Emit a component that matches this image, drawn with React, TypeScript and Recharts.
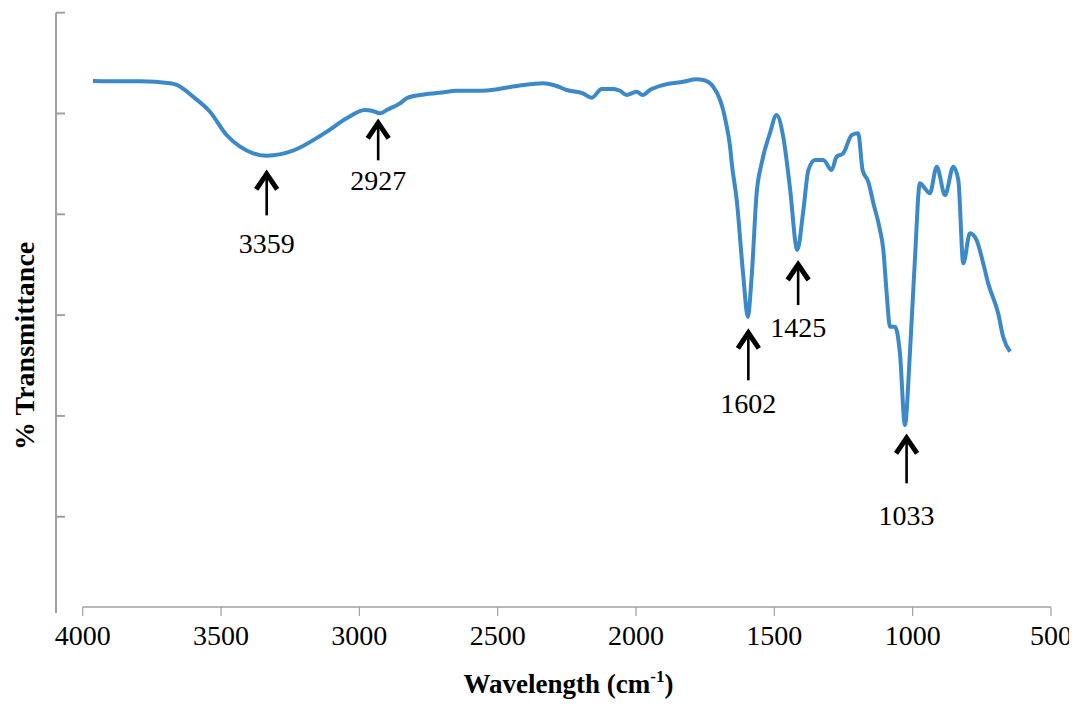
import React from 'react';
import { LineChart, Line, XAxis, YAxis, ReferenceLine, ReferenceDot } from 'recharts';

// ---- data ----
const wavenumbers = [3963, 3901, 3793, 3684, 3660, 3601, 3540, 3480, 3431, 3384, 3335, 3240, 3142, 3118, 3046, 2980, 2955, 2925, 2901, 2853, 2829, 2781, 2709, 2648, 2553, 2431, 2336, 2287, 2251, 2192, 2160, 2124, 2082, 2058, 2034, 1998, 1976, 1950, 1901, 1829, 1781, 1757, 1721, 1696, 1685, 1672, 1660, 1654, 1636, 1612, 1596, 1582, 1564, 1546, 1516, 1492, 1468, 1444, 1417, 1395, 1377, 1353, 1323, 1293, 1275, 1251, 1220, 1197, 1181, 1160, 1142, 1118, 1106, 1094, 1082, 1064, 1046, 1028, 1010, 992, 974, 956, 938, 913, 883, 853, 835, 817, 793, 769, 745, 727, 691, 673, 648];
const transmittance = [93.22, 93.2, 93.2, 93.0, 92.83, 91.67, 90.18, 87.87, 86.71, 86.05, 85.81, 86.31, 87.77, 88.19, 89.52, 90.35, 90.28, 90.02, 90.35, 91.01, 91.51, 91.84, 92.06, 92.26, 92.26, 92.73, 93.0, 92.73, 92.33, 92.0, 91.57, 92.43, 92.43, 92.26, 91.84, 92.16, 91.84, 92.33, 92.83, 93.15, 93.39, 93.32, 92.66, 91.34, 90.35, 88.69, 86.71, 85.09, 81.42, 73.81, 69.84, 73.81, 82.08, 85.06, 88.04, 89.85, 87.7, 82.74, 76.46, 80.43, 84.39, 85.39, 85.39, 84.39, 85.71, 86.05, 87.87, 88.04, 84.39, 83.2, 81.1, 78.44, 76.46, 72.16, 68.85, 68.85, 66.21, 59.1, 66.21, 75.47, 83.07, 82.58, 82.08, 84.72, 81.91, 84.72, 83.4, 75.14, 78.12, 77.45, 75.14, 73.15, 70.18, 67.86, 66.37];

const xTicks = [4000, 3500, 3000, 2500, 2000, 1500, 1000, 500];
const yTicks = [50, 60, 70, 80, 90, 100];

const peakLabels = ['3359', '2927', '1602', '1425', '1033'];
const peakX = [3335, 2932, 1594, 1414, 1022];
const peakTip = [84.46, 89.52, 68.69, 75.47, 58.27];

// ---- styles ----
const ARROW_LEN = [46, 42, 52, 45, 50];
const LABEL_DY = [84, 72, 85, 77, 92];
const FONT = '"Liberation Serif", "Times New Roman", serif';
const LINE_COLOR = '#3B89C9';
const AXIS_COLOR = '#A0A0A0';

const data = wavenumbers.map((wn, i) => ({ wn, t: transmittance[i] }));

const XTick = (props: any) => {
  const { x, y, payload } = props;
  return (
    <g>
      <line x1={x} x2={x} y1={y - 6} y2={y + 3} stroke={AXIS_COLOR} strokeWidth={1.2} />
      <text x={x} y={y + 32} textAnchor="middle" fontFamily={FONT} fontSize={28} fill="#000">
        {payload.value}
      </text>
    </g>
  );
};

const YTick = (props: any) => {
  const { x, y } = props;
  return <line x1={x} x2={x + 9} y1={y} y2={y} stroke={AXIS_COLOR} strokeWidth={2} />;
};

const makeArrow = (i: number) => (p: any) => {
  const { cx, cy } = p;
  const len = ARROW_LEN[i];
  return (
    <g>
      <line x1={cx} x2={cx} y1={cy + 6} y2={cy + len} stroke="#000" strokeWidth={2.6} />
      <polyline
        points={`${cx - 10.5},${cy + 20} ${cx},${cy + 4.5} ${cx + 10.5},${cy + 20}`}
        fill="none"
        stroke="#000"
        strokeWidth={5}
        strokeLinejoin="miter"
      />
      <text x={cx} y={cy + LABEL_DY[i]} textAnchor="middle" fontFamily={FONT} fontSize={28} fill="#000">
        {peakLabels[i]}
      </text>
    </g>
  );
};

const XTitle = (props: any) => {
  const vb = props.viewBox;
  return (
    <text
      x={vb.x + vb.width / 2 + 15}
      y={vb.y + 80}
      textAnchor="middle"
      fontFamily={FONT}
      fontWeight="bold"
      fontSize={27}
      fill="#000"
    >
      Wavelength (cm
      <tspan dy={-11} fontSize={17}>-1</tspan>
      <tspan dy={11}>)</tspan>
    </text>
  );
};

const YTitle = (props: any) => {
  const vb = props.viewBox;
  const x = vb.x + 26;
  const y = vb.y + vb.height / 2 + 33;
  return (
    <text
      x={x}
      y={y}
      transform={`rotate(-90 ${x} ${y})`}
      textAnchor="middle"
      fontFamily={FONT}
      fontWeight="bold"
      fontSize={28}
      fill="#000"
    >
      % Transmittance
    </text>
  );
};

export default function App() {
  return (
    <div style={{ width: 1069, height: 696 }}>
      <LineChart
        width={1069}
        height={696}
        data={data}
        margin={{ top: 4.7, right: 26, bottom: 0, left: 0 }}
      >
        <XAxis
          dataKey="wn"
          type="number"
          domain={[500, 4000]}
          ticks={xTicks}
          reversed
          allowDataOverflow
          padding={{ left: 26.7, right: 0 }}
          axisLine={false}
          tickLine={false}
          tickSize={0}
          tickMargin={0}
          height={91}
          tick={<XTick />}
          interval={0}
          label={{ content: <XTitle /> } as any}
        />
        <YAxis
          type="number"
          domain={[40.45, 100]}
          ticks={yTicks}
          width={48}
          tick={<YTick />}
          tickSize={0}
          tickMargin={0}
          tickLine={false}
          interval={0}
          axisLine={{ stroke: AXIS_COLOR, strokeWidth: 2 }}
          allowDataOverflow
          label={{ content: <YTitle /> } as any}
        />
        <ReferenceLine
          segment={[{ x: 4000, y: 41.04 }, { x: 500, y: 41.04 }]}
          stroke={AXIS_COLOR}
          strokeWidth={1.5}
          ifOverflow="visible"
        />
        <Line
          type="monotone"
          dataKey="t"
          stroke={LINE_COLOR}
          strokeWidth={4}
          dot={false}
          activeDot={false}
          isAnimationActive={false}
        />
        {peakLabels.map((lab, i) => (
          <ReferenceDot
            key={lab}
            x={peakX[i]}
            y={peakTip[i]}
            r={1}
            ifOverflow="visible"
            shape={makeArrow(i)}
          />
        ))}
      </LineChart>
    </div>
  );
}
